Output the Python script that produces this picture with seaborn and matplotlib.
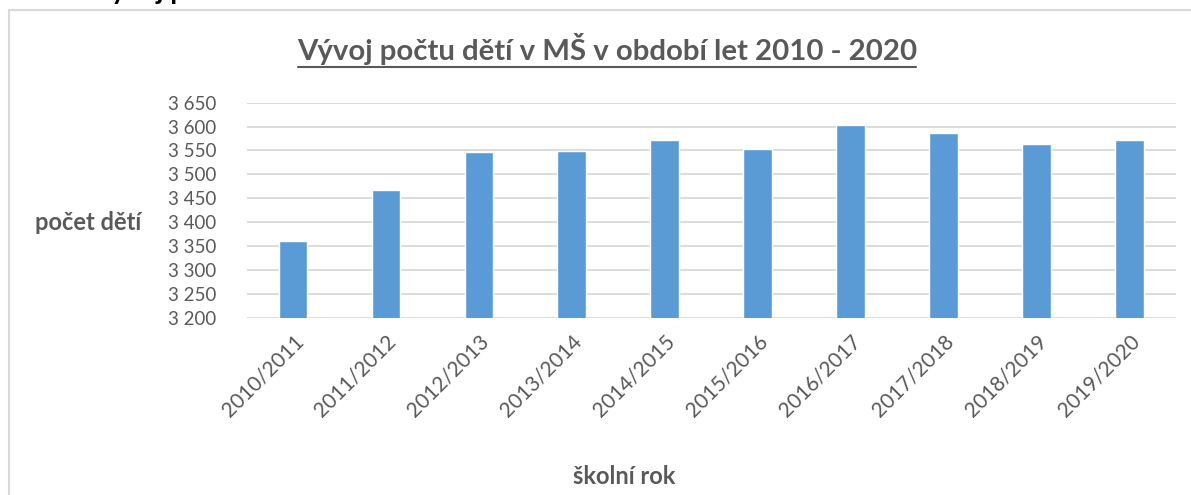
import matplotlib
matplotlib.use("Agg")
import matplotlib.pyplot as plt
import matplotlib.patches as patches
from matplotlib.ticker import FuncFormatter, MultipleLocator
import pandas as pd
import seaborn as sns

# Data
school_years = ["2010/2011", "2011/2012", "2012/2013", "2013/2014", "2014/2015",
                "2015/2016", "2016/2017", "2017/2018", "2018/2019", "2019/2020"]
children = [3360, 3467, 3547, 3549, 3571, 3553, 3604, 3586, 3564, 3571]

title = "Vývoj počtu dětí v MŠ v období let 2010 - 2020"
y_label = "počet dětí"
x_label = "školní rok"

GRAY = "#595959"
BAR = "#5b9bd5"
GRID = "#d9d9d9"

sns.set_style("white")
plt.rcParams["font.family"] = ["Lato", "DejaVu Sans"]

df = pd.DataFrame({"rok": school_years, "deti": children})

W, H = 1191, 495
fig = plt.figure(figsize=(W / 100, H / 100), dpi=100)

# axes placed in pixel terms of the reference
left, right, top, bottom = 246.6, 1176, 102.7, 317.7
ax = fig.add_axes([left / W, 1 - bottom / H, (right - left) / W, (bottom - top) / H])

sns.barplot(data=df, x="rok", y="deti", color=BAR, width=0.31, ax=ax,
            saturation=1, zorder=3)

ax.set_ylim(3200, 3650)
ax.yaxis.set_major_locator(MultipleLocator(50))
ax.yaxis.set_major_formatter(FuncFormatter(lambda v, _: f"{int(v):,}".replace(",", " ")))
ax.grid(axis="y", color=GRID, linewidth=1.3, zorder=0)
ax.set_axisbelow(True)
for s in ax.spines.values():
    s.set_visible(False)
ax.tick_params(axis="y", length=0, labelsize=13.5, labelcolor=GRAY, pad=22)
ax.tick_params(axis="x", length=0, labelsize=15, labelcolor=GRAY, pad=10)
plt.setp(ax.get_xticklabels(), rotation=45, ha="right", rotation_mode="anchor")

ax.set_xlabel("")
ax.set_ylabel(y_label, rotation=0, fontsize=17, fontweight="bold", color=GRAY,
              ha="center", va="center")
ax.yaxis.set_label_coords((88 - left) / (right - left), (bottom - 222) / (bottom - top))

fig.text(624 / W, 1 - 477 / H, x_label, fontsize=17, fontweight="bold",
         color=GRAY, ha="center", va="center")

fig.text(607 / W, 1 - 49 / H, title, fontsize=21.2, fontweight="bold",
         color=GRAY, ha="center", va="center")
fig.lines.append(plt.Line2D([298 / W, 916 / W], [1 - 67 / H, 1 - 67 / H],
                            color=GRAY, linewidth=1.5, transform=fig.transFigure))

# chart frame and the cut-off heading above it
fig.patches.append(patches.Rectangle((9 / W, -0.05), 1.1, 1 - 10 / H + 0.05,
                                     transform=fig.transFigure, fill=False,
                                     edgecolor="#d9d9d9", linewidth=1.5))
fig.text(92 / W, 1 + 1 / H, "Vývoj počtu", fontsize=20, fontweight="bold",
         color="black", ha="left", va="baseline")

fig.savefig("out.png", dpi=100)
